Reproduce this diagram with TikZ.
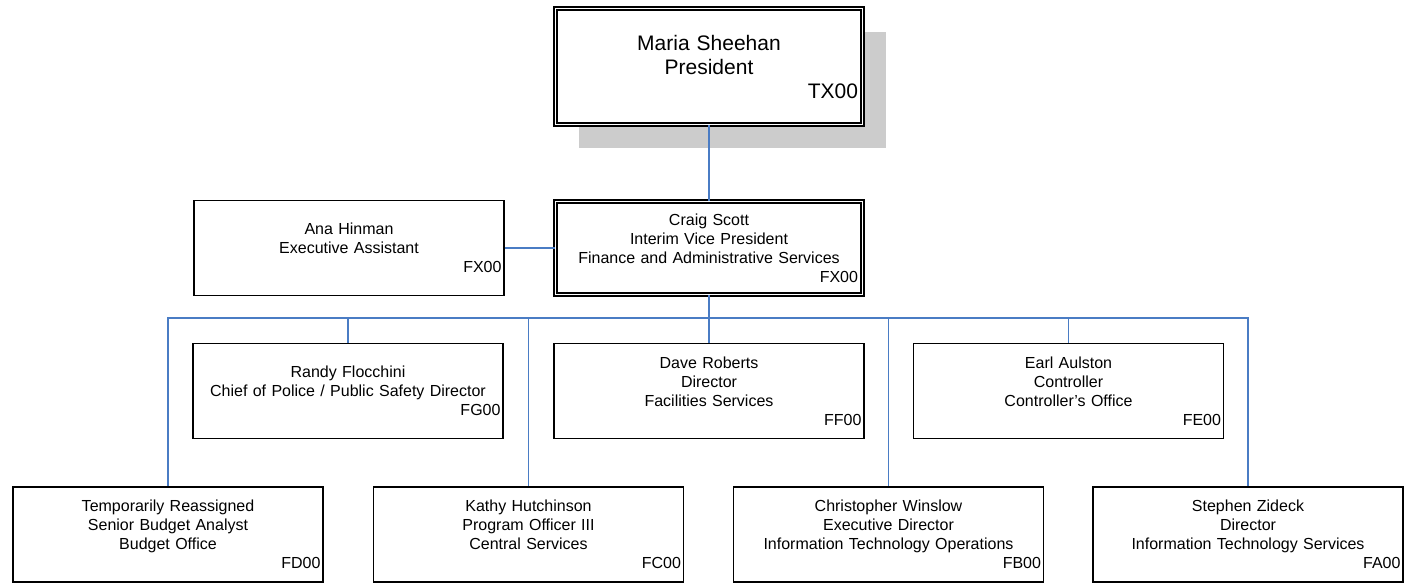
\documentclass[tikz,border=0pt]{standalone}
\usepackage{fontspec}
\setmainfont{Liberation Sans}
\usetikzlibrary{shadows}
\definecolor{linkblue}{RGB}{74,124,196}
\definecolor{shadowgray}{RGB}{204,204,204}
\newcommand{\unitcode}[1]{\\\hspace*{0pt plus 1filll}#1}

\begin{document}
\begin{tikzpicture}[x=1pt, y=-1pt,
  unit/.style = {draw, fill=white, line width=1.5pt, minimum width=310pt,
                 minimum height=95pt, text width=305pt, align=center,
                 inner xsep=2.5pt, font=\fontsize{16}{19}\selectfont},
  head/.style = {unit, double, line width=1.6pt, double distance=1.8pt,
                 minimum width=307pt, text width=298pt, minimum height=93pt},
  link/.style = {draw=linkblue, line width=1.6pt}
]
  \useasboundingbox (0,0) rectangle (1406,583);

  % President
  \node[head, minimum height=116pt, font=\fontsize{21}{24}\selectfont,
        drop shadow={shadow xshift=23.5pt, shadow yshift=-24pt,
                     fill=shadowgray, opacity=1}]
        (pres) at (709,66.5) {Maria Sheehan\\President\unitcode{TX00}};

  % Vice President and assistant
  \node[unit] (ana) at (349,248) {Ana Hinman\\Executive Assistant\unitcode{FX00}};
  \node[head] (vp)  at (709,248) {Craig Scott\\Interim Vice President\\Finance and Administrative Services\unitcode{FX00}};

  % Upper row
  \node[unit] (randy) at (348,391)    {Randy Flocchini\\Chief of Police / Public Safety Director\unitcode{FG00}};
  \node[unit] (dave)  at (709,391)    {Dave Roberts\\Director\\Facilities Services\unitcode{FF00}};
  \node[unit] (earl)  at (1068.5,391) {Earl Aulston\\Controller\\Controller's Office\unitcode{FE00}};

  % Lower row
  \node[unit] (fd) at (168,534.5)  {Temporarily Reassigned\\Senior Budget Analyst\\Budget Office\unitcode{FD00}};
  \node[unit] (fc) at (528.5,534.5) {Kathy Hutchinson\\Program Officer III\\Central Services\unitcode{FC00}};
  \node[unit] (fb) at (888.5,534.5) {Christopher Winslow\\Executive Director\\Information Technology Operations\unitcode{FB00}};
  \node[unit] (fa) at (1248,534.5)  {Stephen Zideck\\Director\\Information Technology Services\unitcode{FA00}};

  % Links
  \coordinate (bus) at (709,318);
  \draw[link] (pres) -- (vp);
  \draw[link] (ana) -- (vp);
  \draw[link] (vp.south) -- (bus);
  \foreach \sub in {fd,randy,fc,dave,fb,earl,fa}
    \draw[link] (bus) -| (\sub.north);

\end{tikzpicture}
\end{document}
